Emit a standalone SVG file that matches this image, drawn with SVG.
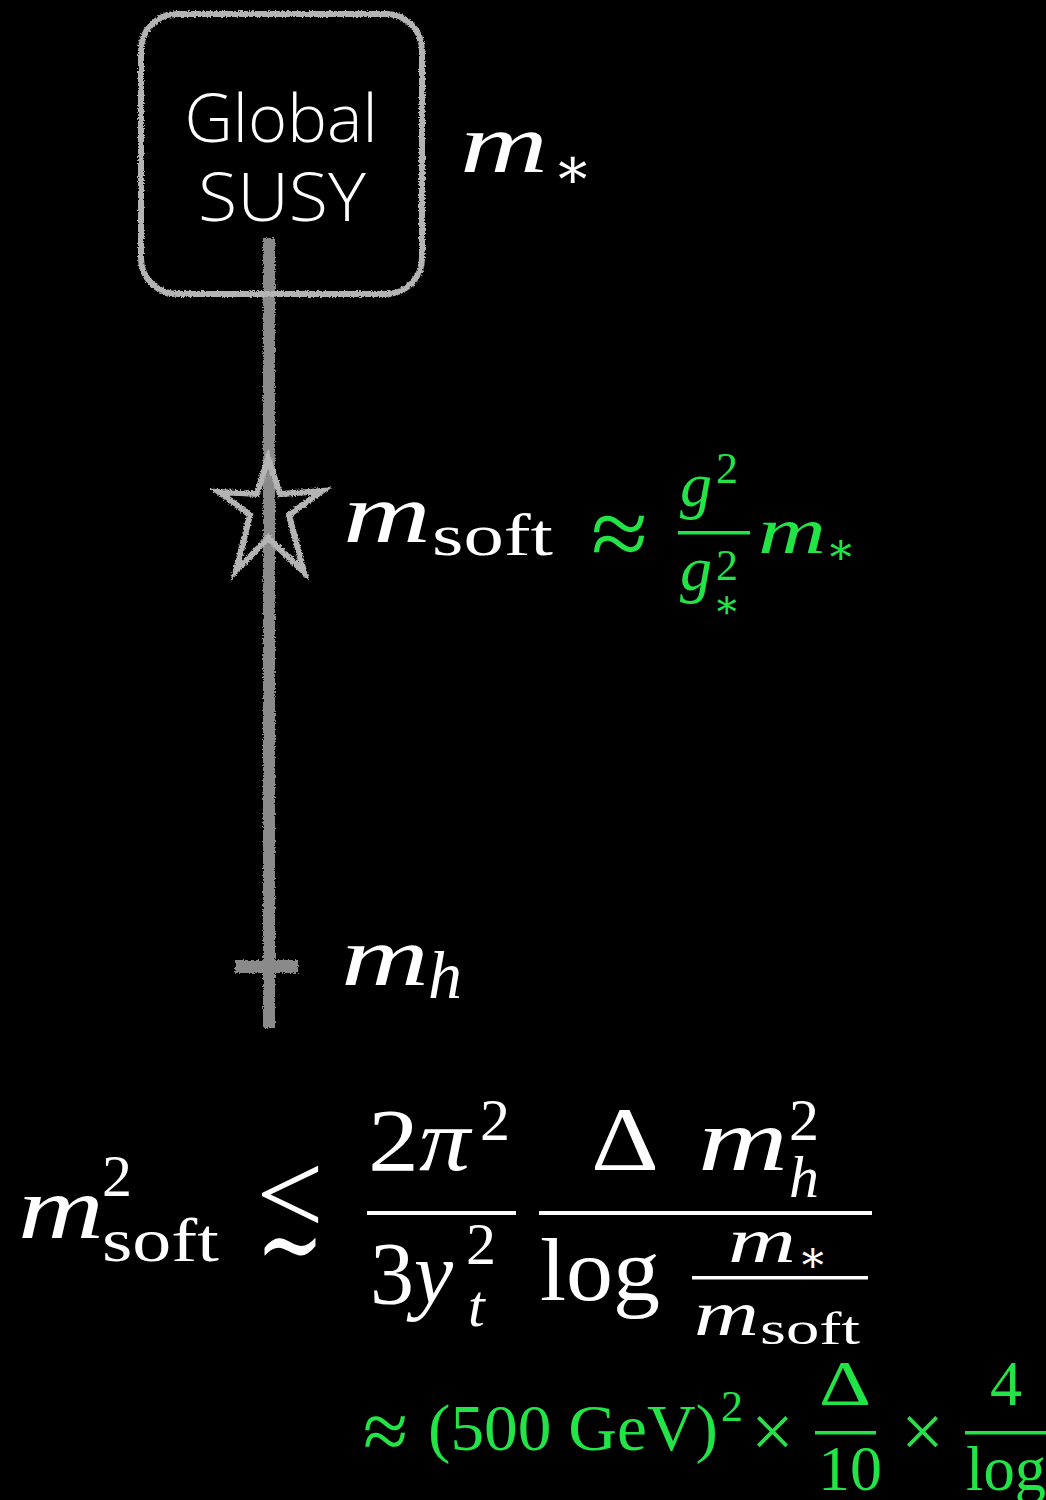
<svg xmlns="http://www.w3.org/2000/svg" width="1046" height="1500" viewBox="0 0 1046 1500">
<defs>
<filter id="chalk" x="-20%" y="-20%" width="140%" height="140%">
<feTurbulence type="fractalNoise" baseFrequency="0.6" numOctaves="2" seed="3" result="n"/>
<feDisplacementMap in="SourceGraphic" in2="n" scale="4" xChannelSelector="R" yChannelSelector="G"/>
</filter>
<style>
.sans{font-family:"Open Sans","Liberation Sans",sans-serif;font-weight:300;fill:#fff;font-size:66px;text-anchor:middle}
.m{font-family:"Liberation Serif","DejaVu Serif",serif;font-style:italic}
.r{font-family:"Liberation Serif","DejaVu Serif",serif}
.w{fill:#fff}
.g{fill:#22e447}
.chalk{fill:none;stroke:#b4b4b4;filter:url(#chalk)}
.bar{fill:#8a8a8a;filter:url(#chalk)}
</style>
</defs>
<rect width="1046" height="1500" fill="#000"/>

<g id="connectors">
<rect class="bar" x="263" y="238" width="12" height="790"/>
</g>

<g id="global-susy">
<rect class="chalk" x="141" y="14" width="281" height="280" rx="36" stroke-width="6"/>
<text class="sans" x="281" y="142" textLength="193" lengthAdjust="spacingAndGlyphs">Global</text>
<text class="sans" x="282" y="221" textLength="168" lengthAdjust="spacingAndGlyphs">SUSY</text>
</g>

<g id="m-star-label">
<text class="m w" x="460" y="172" font-size="84" textLength="88" lengthAdjust="spacingAndGlyphs">m</text>
<text class="r w" x="553" y="188" font-size="58">∗</text>
</g>

<g id="star">
<polygon class="chalk" points="268,458 280,494 322,491 289,515 304,572 268,538 236,571 250,515 219,492 257,494" stroke-width="6" stroke-linejoin="miter"/>
</g>

<g id="msoft-label">
<text class="m w" x="343" y="542" font-size="84" textLength="88" lengthAdjust="spacingAndGlyphs">m</text>
<text class="r w" x="432" y="555" font-size="60" textLength="121" lengthAdjust="spacingAndGlyphs">soft</text>
<text class="r g" x="591" y="567" font-size="100" textLength="57" lengthAdjust="spacingAndGlyphs">≈</text>
<text class="m g" x="680" y="506" font-size="64">g</text>
<text class="r g" x="716" y="483" font-size="44">2</text>
<rect class="g" x="678" y="531" width="72" height="3.5"/>
<text class="m g" x="680" y="590" font-size="64">g</text>
<text class="r g" x="716" y="580" font-size="44">2</text>
<text class="r g" x="713" y="618" font-size="40">∗</text>
<text class="m g" x="758" y="553" font-size="66" textLength="68" lengthAdjust="spacingAndGlyphs">m</text>
<text class="r g" x="826" y="564" font-size="44">∗</text>
</g>

<g id="mh-tick">
<rect class="bar" x="235" y="960" width="63" height="13"/>
</g>

<g id="mh-label">
<text class="m w" x="341" y="985" font-size="84" textLength="88" lengthAdjust="spacingAndGlyphs">m</text>
<text class="m w" x="428" y="998" font-size="68">h</text>
</g>

<g id="bound-formula">
<text class="m w" x="18" y="1238" font-size="88" textLength="86" lengthAdjust="spacingAndGlyphs">m</text>
<text class="r w" x="102" y="1196" font-size="60">2</text>
<text class="r w" x="102" y="1261" font-size="62" textLength="117" lengthAdjust="spacingAndGlyphs">soft</text>
<text class="r w" x="256" y="1234" font-size="118" textLength="68" lengthAdjust="spacingAndGlyphs">&lt;</text>
<text class="r w" x="256" y="1282" font-size="112" textLength="68" lengthAdjust="spacingAndGlyphs">∼</text>
<text class="m w" x="368" y="1170" font-size="88" textLength="102" lengthAdjust="spacingAndGlyphs"><tspan font-style="normal">2</tspan>π</text>
<text class="r w" x="480" y="1140" font-size="60">2</text>
<rect class="w" x="367" y="1211" width="149" height="4"/>
<text class="r w" x="370" y="1303" font-size="88">3</text>
<text class="m w" x="414" y="1303" font-size="88">y</text>
<text class="r w" x="466" y="1264" font-size="60">2</text>
<text class="m w" x="468" y="1326" font-size="60">t</text>
<rect class="w" x="539" y="1211" width="333" height="4"/>
<text class="r w" x="591" y="1170" font-size="92" textLength="68" lengthAdjust="spacingAndGlyphs">Δ</text>
<text class="m w" x="698" y="1170" font-size="88" textLength="90" lengthAdjust="spacingAndGlyphs">m</text>
<text class="r w" x="789" y="1140" font-size="60">2</text>
<text class="m w" x="789" y="1197" font-size="60">h</text>
<text class="r w" x="540" y="1300" font-size="88" textLength="120" lengthAdjust="spacingAndGlyphs">log</text>
<text class="m w" x="728" y="1262" font-size="64" textLength="68" lengthAdjust="spacingAndGlyphs">m</text>
<text class="r w" x="798" y="1272" font-size="44">∗</text>
<rect class="w" x="692" y="1276" width="176" height="3.5"/>
<text class="m w" x="694" y="1335" font-size="64" textLength="65" lengthAdjust="spacingAndGlyphs">m</text>
<text class="r w" x="760" y="1344" font-size="46" textLength="100" lengthAdjust="spacingAndGlyphs">soft</text>
</g>

<g id="estimate">
<text class="r g" x="363" y="1459" font-size="83" textLength="45" lengthAdjust="spacingAndGlyphs">≈</text>
<text class="r g" x="428" y="1450" font-size="66" textLength="290" lengthAdjust="spacingAndGlyphs">(500 GeV)</text>
<text class="r g" x="721" y="1421" font-size="44">2</text>
<text class="r g" x="751" y="1457" font-size="76">×</text>
<text class="r g" x="819" y="1405" font-size="64" textLength="52" lengthAdjust="spacingAndGlyphs">Δ</text>
<rect class="g" x="815" y="1431" width="61" height="3.5"/>
<text class="r g" x="818" y="1490" font-size="64">10</text>
<text class="r g" x="901" y="1457" font-size="76">×</text>
<text class="r g" x="990" y="1405" font-size="64">4</text>
<rect class="g" x="965" y="1431" width="81" height="3.5"/>
<text class="r g" x="966" y="1490" font-size="64" textLength="80" lengthAdjust="spacingAndGlyphs">log</text>
</g>
</svg>
